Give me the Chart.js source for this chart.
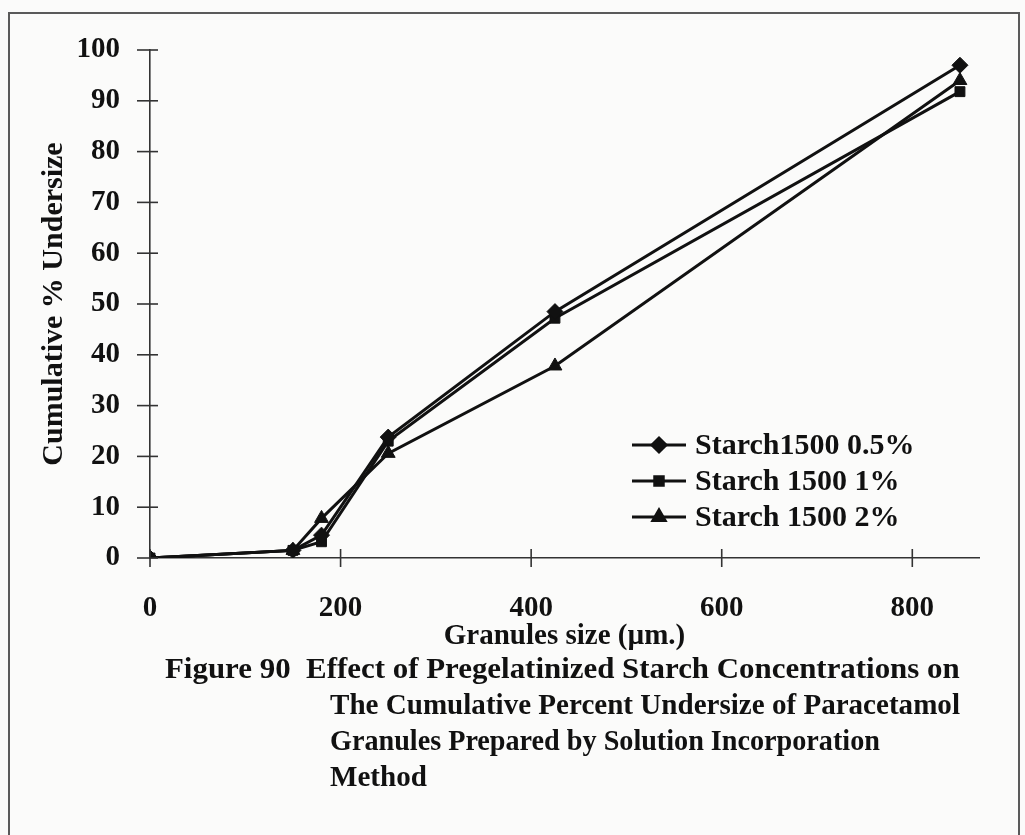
<!DOCTYPE html>
<html>
<head>
<meta charset="utf-8">
<script src="https://cdn.jsdelivr.net/npm/chart.js@4.4.1/dist/chart.umd.min.js"></script>
<style>
  html, body { margin: 0; padding: 0; background: #fbfbfa; }
  #wrap { position: relative; width: 1025px; height: 835px; overflow: hidden; }
  #frame { position: absolute; left: 8px; top: 12px; width: 1012px; height: 840px; border: 2px solid #5a5a5a; box-sizing: border-box; }
  #c { position: absolute; left: 0; top: 0; }
  .cap { position: absolute; font-family: "Liberation Serif", "Times New Roman", serif; font-weight: bold; font-size: 30px; color: #111; white-space: nowrap; line-height: 36px; transform-origin: 0 0; }
</style>
</head>
<body>
<div id="wrap">
  <div id="frame"></div>
  <canvas id="c" width="1025" height="835"></canvas>
  <div class="cap" id="cap0" style="left:165px; top:650px;">Figure 90&nbsp;&nbsp;Effect of Pregelatinized Starch Concentrations on</div>
  <div class="cap" id="cap1" style="left:330px; top:686px;">The Cumulative Percent Undersize of Paracetamol</div>
  <div class="cap" id="cap2" style="left:330px; top:722px;">Granules Prepared by Solution Incorporation</div>
  <div class="cap" id="cap3" style="left:330px; top:758px;">Method</div>
</div>
<script>
// ---- data ----
const granuleSizes = [0, 150, 180, 250, 425, 850];
const seriesLabels = ["Starch1500 0.5%", "Starch 1500 1%", "Starch 1500 2%"];
const starch05 = [0, 1.5, 4.5, 23.8, 48.5, 97.0];
const starch1  = [0, 1.5, 3.2, 23.0, 47.2, 91.8];
const starch2  = [0, 1.5, 7.8, 20.6, 37.8, 94.0];
const xTicks = [0, 200, 400, 600, 800];
const yTicks = [0, 10, 20, 30, 40, 50, 60, 70, 80, 90, 100];
const markerStyles = ["rectRot", "rect", "triangle"];
const xTitle = "Granules size (\u00b5m.)";
const yTitle = "Cumulative % Undersize";

const serif = "'Liberation Serif', 'Times New Roman', serif";
const ink = "#111";

function toPoints(vals) { return granuleSizes.map((x, i) => ({ x: x, y: vals[i] })); }
const allSeries = [starch05, starch1, starch2];
const markerRadius = [8, 7, 8];

const datasets = allSeries.map((vals, i) => ({
  label: seriesLabels[i],
  data: toPoints(vals),
  borderColor: ink,
  backgroundColor: ink,
  borderWidth: 3,
  pointStyle: markerStyles[i],
  pointRadius: markerRadius[i],
  pointBackgroundColor: ink,
  pointBorderColor: ink,
  pointBorderWidth: 1,
  tension: 0,
  fill: false
}));

// crossing tick marks drawn through the scales
const crossTicks = {
  id: 'crossTicks',
  afterDraw(chart) {
    const ctx = chart.ctx;
    const xs = chart.scales.x, ys = chart.scales.y;
    const x0 = xs.getPixelForValue(0);
    const y0 = ys.getPixelForValue(0);
    ctx.save();
    ctx.strokeStyle = '#333';
    ctx.lineWidth = 1.6;
    yTicks.forEach(v => {
      const py = ys.getPixelForValue(v);
      ctx.beginPath(); ctx.moveTo(x0 - 13, py); ctx.lineTo(x0 + 8, py); ctx.stroke();
    });
    xTicks.forEach(v => {
      const px = xs.getPixelForValue(v);
      ctx.beginPath(); ctx.moveTo(px, y0 - 9); ctx.lineTo(px, y0 + 9); ctx.stroke();
    });
    ctx.restore();
  }
};

// legend inside plot area
const innerLegend = {
  id: 'innerLegend',
  afterDraw(chart) {
    const ctx = chart.ctx;
    const left = 632, lineLen = 54, textX = 695;
    const rows = [445, 481, 517];
    ctx.save();
    chart.data.datasets.forEach((ds, i) => {
      const y = rows[i];
      ctx.strokeStyle = ink; ctx.lineWidth = 3;
      ctx.beginPath(); ctx.moveTo(left, y); ctx.lineTo(left + lineLen, y); ctx.stroke();
      ctx.fillStyle = ink;
      Chart.helpers.drawPoint(ctx, { pointStyle: ds.pointStyle, radius: ds.pointRadius - 1, borderWidth: 1 }, left + lineLen / 2, y);
      ctx.font = "bold 30px " + serif;
      ctx.textBaseline = 'middle';
      ctx.textAlign = 'left';
      ctx.fillText(ds.label, textX, y + 1);
    });
    ctx.restore();
  }
};

new Chart(document.getElementById('c'), {
  type: 'line',
  data: { datasets: datasets },
  options: {
    responsive: false,
    animation: false,
    devicePixelRatio: 1,
    layout: { padding: { left: 20, top: 50, right: 46, bottom: 177 } },
    plugins: { legend: { display: false }, tooltip: { enabled: false } },
    scales: {
      x: {
        type: 'linear',
        min: 0, max: 870,
        afterFit(s) { s.height = 100; },
        afterBuildTicks(s) { s.ticks = xTicks.map(v => ({ value: v })); },
        grid: { display: false },
        border: { display: true, color: '#333', width: 1.6 },
        ticks: { color: ink, font: { family: serif, size: 29, weight: 'bold' }, padding: 25, maxRotation: 0 },
        title: { display: true, text: xTitle, color: ink, font: { family: serif, size: 29, weight: 'bold' }, padding: { top: 4, bottom: 4 } }
      },
      y: {
        type: 'linear',
        min: 0, max: 100,
        afterFit(s) { s.width = 130; },
        afterBuildTicks(s) { s.ticks = yTicks.map(v => ({ value: v })); },
        grid: { display: false },
        border: { display: true, color: '#333', width: 1.6 },
        ticks: { color: ink, font: { family: serif, size: 29, weight: 'bold' }, padding: 22 },
        title: { display: true, text: yTitle, color: ink, font: { family: serif, size: 30, weight: 'bold' }, padding: { top: 16, bottom: 16 } }
      }
    }
  },
  plugins: [crossTicks, innerLegend]
});

// fit each caption line's width to the reference
(function () {
  const targets = { cap0: 795, cap1: 630, cap2: 550 };
  let s1 = 1;
  Object.keys(targets).forEach(id => {
    const el = document.getElementById(id);
    const w = el.getBoundingClientRect().width;
    const sx = targets[id] / w;
    if (id === 'cap1') s1 = sx;
    el.style.transform = 'scaleX(' + sx.toFixed(3) + ')';
  });
  document.getElementById('cap3').style.transform = 'scaleX(' + s1.toFixed(3) + ')';
})();
</script>
</body>
</html>
